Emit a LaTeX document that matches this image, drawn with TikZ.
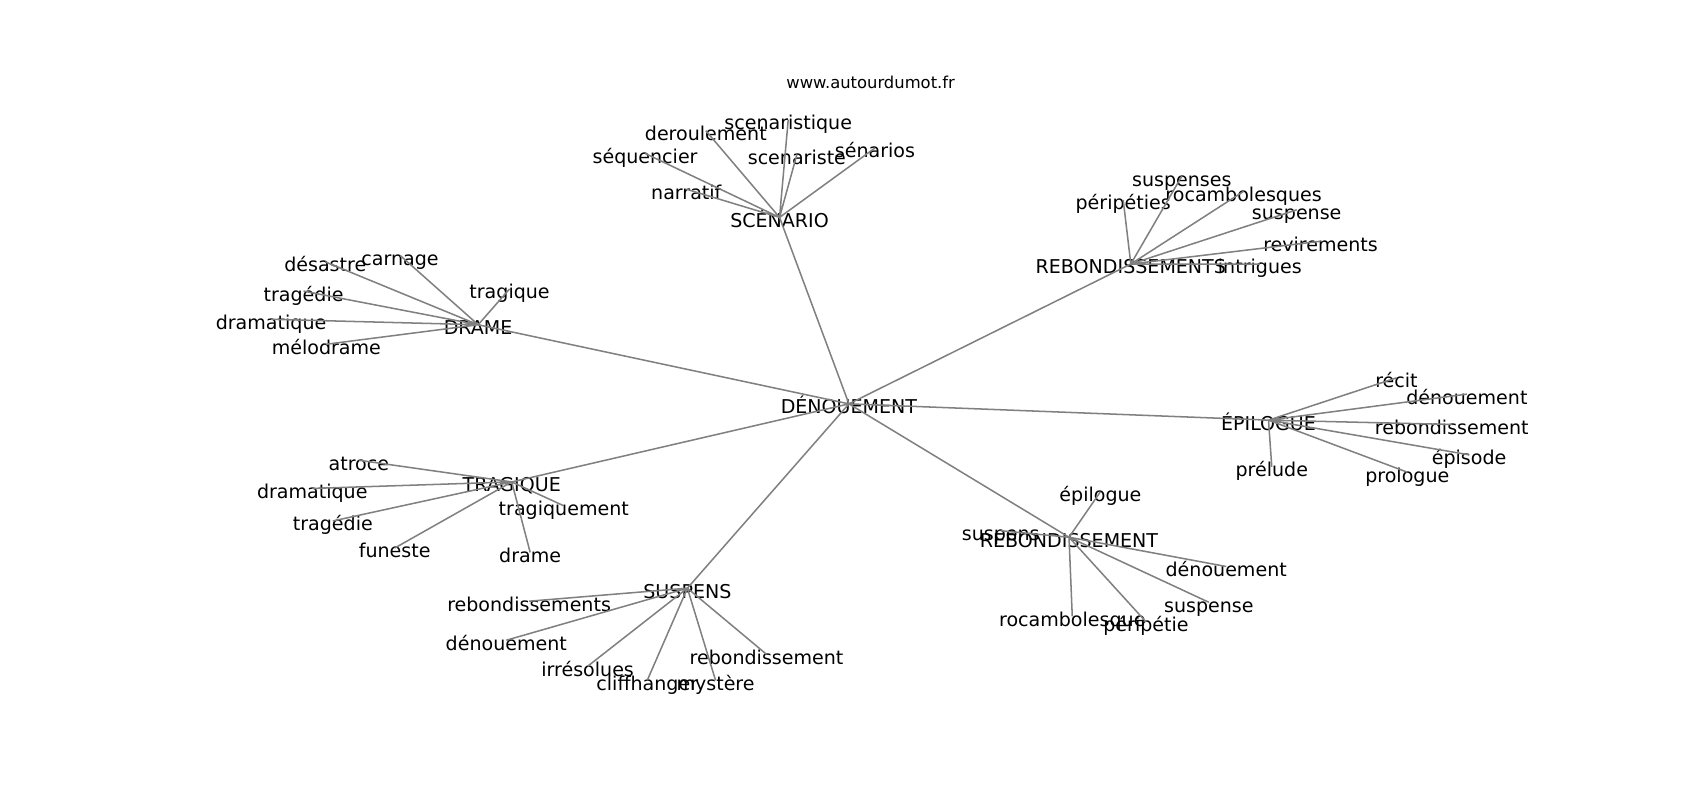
\documentclass[tikz,border=0pt]{standalone}
\usepackage{fontspec}
\setmainfont{DejaVu Sans}
\usepackage{tikz}
\usepackage{xcolor}

\begin{document}
\begin{tikzpicture}[
    x=1cm, y=-1cm,
    word/.style={inner sep=0pt, text height=0.76em, text depth=0.24em, font=\fontsize{5}{6}\selectfont},
    site/.style={inner sep=0pt, font=\fontsize{4.3}{5}\selectfont},
    edge/.style={draw=gray, line width=0.4pt}
]
    \useasboundingbox (0,0) rectangle (15.68,7.38);
    \node[site] (site) at (8.03,0.76) {www.autourdumot.fr};

    \begin{scope}[yshift=0.025cm]
    % Hubs
    \node[word] (denouement) at (7.83,3.75) {DÉNOUEMENT};
    \node[word] (scenario) at (7.19,2.03) {SCÉNARIO};
    \node[word] (drame) at (4.41,3.02) {DRAME};
    \node[word] (tragique) at (4.72,4.47) {TRAGIQUE};
    \node[word] (epilogue) at (11.70,3.90) {ÉPILOGUE};
    \node[word] (rebond) at (9.86,4.98) {REBONDISSEMENT};
    \node[word] (suspens) at (6.34,5.45) {SUSPENS};
    \node[word] (rebonds) at (10.43,2.46) {REBONDISSEMENTS};

    % Scenario words
    \node[word] (scScenaristique) at (7.27,1.13) {scenaristique};
    \node[word] (scDeroulement) at (6.51,1.23) {deroulement};
    \node[word] (scSequencier) at (5.95,1.44) {séquencier};
    \node[word] (scScenariste) at (7.35,1.45) {scenariste};
    \node[word] (scSenarios) at (8.07,1.39) {sénarios};
    \node[word] (scNarratif) at (6.33,1.77) {narratif};

    % Rebondissements words
    \node[word] (rsSuspenses) at (10.90,1.65) {suspenses};
    \node[word] (rsRocambolesques) at (11.47,1.79) {rocambolesques};
    \node[word] (rsPeripeties) at (10.36,1.87) {péripéties};
    \node[word] (rsSuspense) at (11.96,1.96) {suspense};
    \node[word] (rsRevirements) at (12.18,2.25) {revirements};
    \node[word] (rsIntrigues) at (11.62,2.46) {intrigues};

    % Drame words
    \node[word] (drDesastre) at (3.00,2.44) {désastre};
    \node[word] (drCarnage) at (3.69,2.38) {carnage};
    \node[word] (drTragedie) at (2.80,2.71) {tragédie};
    \node[word] (drTragique) at (4.70,2.69) {tragique};
    \node[word] (drDramatique) at (2.50,2.97) {dramatique};
    \node[word] (drMelodrame) at (3.01,3.20) {mélodrame};

    % Epilogue words
    \node[word] (epRecit) at (12.88,3.51) {récit};
    \node[word] (epDenouement) at (13.53,3.66) {dénouement};
    \node[word] (epRebond) at (13.39,3.94) {rebondissement};
    \node[word] (epEpisode) at (13.55,4.22) {épisode};
    \node[word] (epPrelude) at (11.73,4.33) {prélude};
    \node[word] (epPrologue) at (12.98,4.38) {prologue};

    % Tragique words
    \node[word] (trAtroce) at (3.31,4.27) {atroce};
    \node[word] (trDramatique) at (2.88,4.53) {dramatique};
    \node[word] (trTragiquement) at (5.20,4.69) {tragiquement};
    \node[word] (trTragedie) at (3.07,4.83) {tragédie};
    \node[word] (trFuneste) at (3.64,5.08) {funeste};
    \node[word] (trDrame) at (4.89,5.12) {drame};

    % Rebondissement words
    \node[word] (rbEpilogue) at (10.15,4.56) {épilogue};
    \node[word] (rbSuspens) at (9.23,4.92) {suspens};
    \node[word] (rbDenouement) at (11.31,5.25) {dénouement};
    \node[word] (rbSuspense) at (11.15,5.58) {suspense};
    \node[word] (rbRocambolesque) at (9.89,5.71) {rocambolesque};
    \node[word] (rbPeripetie) at (10.57,5.76) {péripétie};

    % Suspens words
    \node[word] (spRebonds) at (4.88,5.57) {rebondissements};
    \node[word] (spDenouement) at (4.67,5.93) {dénouement};
    \node[word] (spIrresolues) at (5.42,6.17) {irrésolues};
    \node[word] (spRebond) at (7.07,6.06) {rebondissement};
    \node[word] (spCliffhanger) at (5.97,6.30) {cliffhanger};
    \node[word] (spMystere) at (6.60,6.30) {mystère};

    % Edges from the centre
    \draw[edge] (denouement.center) -- (scenario.center)
        (denouement.center) -- (drame.center)
        (denouement.center) -- (tragique.center)
        (denouement.center) -- (epilogue.center)
        (denouement.center) -- (rebond.center)
        (denouement.center) -- (suspens.center)
        (denouement.center) -- (rebonds.center);

    % Edges of each hub
    \draw[edge] (scenario.center) -- (scScenaristique.center)
        (scenario.center) -- (scDeroulement.center)
        (scenario.center) -- (scSequencier.center)
        (scenario.center) -- (scScenariste.center)
        (scenario.center) -- (scSenarios.center)
        (scenario.center) -- (scNarratif.center);
    \draw[edge] (rebonds.center) -- (rsSuspenses.center)
        (rebonds.center) -- (rsRocambolesques.center)
        (rebonds.center) -- (rsPeripeties.center)
        (rebonds.center) -- (rsSuspense.center)
        (rebonds.center) -- (rsRevirements.center)
        (rebonds.center) -- (rsIntrigues.center);
    \draw[edge] (drame.center) -- (drDesastre.center)
        (drame.center) -- (drCarnage.center)
        (drame.center) -- (drTragedie.center)
        (drame.center) -- (drTragique.center)
        (drame.center) -- (drDramatique.center)
        (drame.center) -- (drMelodrame.center);
    \draw[edge] (epilogue.center) -- (epRecit.center)
        (epilogue.center) -- (epDenouement.center)
        (epilogue.center) -- (epRebond.center)
        (epilogue.center) -- (epEpisode.center)
        (epilogue.center) -- (epPrelude.center)
        (epilogue.center) -- (epPrologue.center);
    \draw[edge] (tragique.center) -- (trAtroce.center)
        (tragique.center) -- (trDramatique.center)
        (tragique.center) -- (trTragiquement.center)
        (tragique.center) -- (trTragedie.center)
        (tragique.center) -- (trFuneste.center)
        (tragique.center) -- (trDrame.center);
    \draw[edge] (rebond.center) -- (rbEpilogue.center)
        (rebond.center) -- (rbSuspens.center)
        (rebond.center) -- (rbDenouement.center)
        (rebond.center) -- (rbSuspense.center)
        (rebond.center) -- (rbRocambolesque.center)
        (rebond.center) -- (rbPeripetie.center);
    \draw[edge] (suspens.center) -- (spRebonds.center)
        (suspens.center) -- (spDenouement.center)
        (suspens.center) -- (spIrresolues.center)
        (suspens.center) -- (spRebond.center)
        (suspens.center) -- (spCliffhanger.center)
        (suspens.center) -- (spMystere.center);
    \end{scope}
\end{tikzpicture}
\end{document}
